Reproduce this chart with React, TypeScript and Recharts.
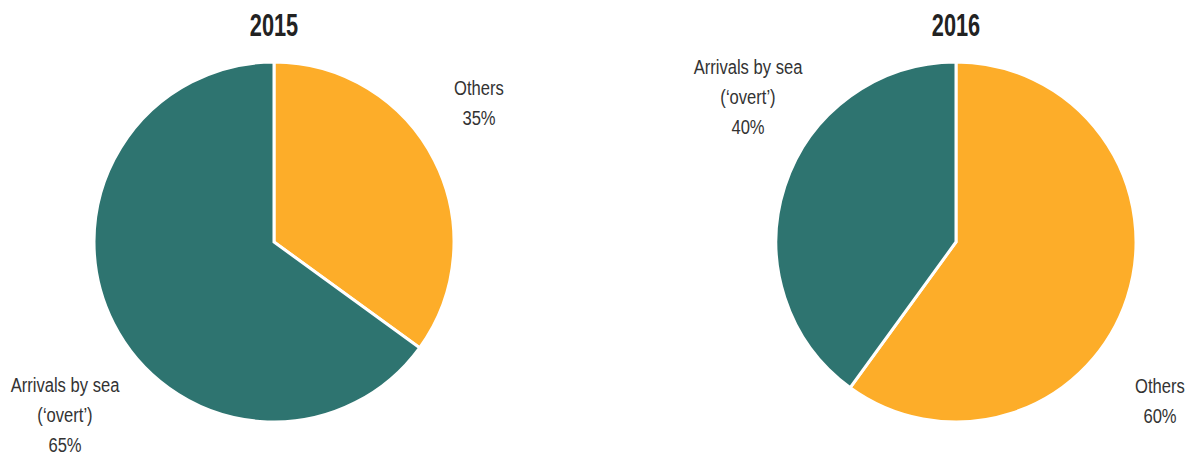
import React from 'react';
import { PieChart, Pie, Cell } from 'recharts';

const categories = ['Others', 'Arrivals by sea (\u2018overt\u2019)'];
const years = ['2015', '2016'];
const values2015 = [35, 65];
const values2016 = [60, 40];

const colors = ['#fdad29', '#2e7470'];
const font = "'Liberation Sans', Arial, sans-serif";

// where each label block sits, relative to its pie centre
const labelOffsets: Record<string, [number, number][]> = {
    '2015': [[205, -140], [-209, 172]],
    '2016': [[204, 158], [-208, -146]],
};

const build = (vals: number[]) => categories.map((name, i) => ({ name, value: vals[i] }));

const makeLabel = (year: string) => (props: any) => {
    const { cx, cy, index, name, value } = props;
    const [dx, dy] = labelOffsets[year][index];
    const lines = name === 'Others' ? ['Others', `${value}%`] : ['Arrivals by sea', '(\u2018overt\u2019)', `${value}%`];
    const lh = 30;
    const top = -((lines.length - 1) * lh) / 2;
    return (
        <text
            transform={`translate(${cx + dx},${cy + dy}) scale(0.79,1)`}
            x={0}
            y={top}
            textAnchor="middle"
            dominantBaseline="central"
            fill="#333"
            fontSize={21}
            fontFamily={font}
        >
            {lines.map((l, i) => (
                <tspan key={i} x={0} y={top + i * lh} dominantBaseline="central">
                    {l}
                </tspan>
            ))}
        </text>
    );
};

export default function App() {
    const pies = [
        { year: years[0], data: build(values2015), cx: 274 },
        { year: years[1], data: build(values2016), cx: 956 },
    ];

    return (
        <div style={{ position: 'absolute', left: 0, top: 0, width: 1189, height: 454, background: '#fff' }}>
            <PieChart width={1189} height={454} margin={{ top: 0, right: 0, bottom: 0, left: 0 }}>
                {pies.map((p) => (
                    <text
                        key={`t${p.year}`}
                        transform={`translate(${p.cx},25) scale(0.68,1)`}
                        x={0}
                        y={0}
                        textAnchor="middle"
                        dominantBaseline="central"
                        fontSize={32}
                        fontWeight="bold"
                        fill="#222"
                        fontFamily={font}
                    >
                        {p.year}
                    </text>
                ))}
                {pies.map((p) => (
                    <Pie
                        key={p.year}
                        data={p.data}
                        dataKey="value"
                        nameKey="name"
                        cx={p.cx}
                        cy={242}
                        outerRadius={180}
                        startAngle={90}
                        endAngle={-270}
                        stroke="#fff"
                        strokeWidth={3}
                        labelLine={false}
                        label={makeLabel(p.year)}
                        isAnimationActive={false}
                    >
                        {p.data.map((d, i) => (
                            <Cell key={d.name} fill={colors[i]} />
                        ))}
                    </Pie>
                ))}
            </PieChart>
        </div>
    );
}
